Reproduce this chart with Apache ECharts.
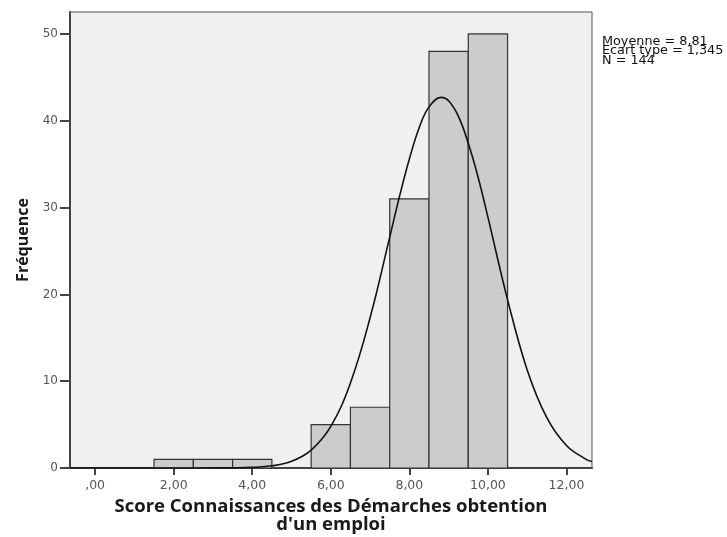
<!DOCTYPE html>
<html>
<head>
<meta charset="utf-8">
<script src="https://cdn.jsdelivr.net/npm/echarts@6/dist/echarts.min.js"></script>
<style>html,body{margin:0;padding:0;background:#fff}#c{width:727px;height:537px}</style>
</head>
<body>
<div id="c"></div>
<script>
// Histogram bins (lower edge, upper edge) and frequencies
var binLow  = [1.5, 2.5, 3.5, 5.5, 6.5, 7.5, 8.5, 9.5];
var binHigh = [2.5, 3.5, 4.5, 6.5, 7.5, 8.5, 9.5, 10.5];
var counts  = [1, 1, 1, 5, 7, 31, 48, 50];

// Fitted normal curve
var curveX = [-0.64, 1, 2, 3, 3.5, 4, 4.5, 5, 5.5, 6, 6.5, 7, 7.5, 7.75, 8, 8.25, 8.5, 8.81, 9, 9.25, 9.5, 9.75, 10, 10.5, 11, 11.5, 12, 12.5, 12.65];
var curveY = [0, 0, 0, 0.01, 0.02, 0.07, 0.25, 0.77, 2.07, 4.8, 9.8, 17.3, 26.6, 31.3, 35.6, 39.2, 41.6, 42.7, 42.3, 40.5, 37.4, 33.5, 28.9, 19.4, 11.3, 5.8, 2.6, 1.0, 0.75];

// Axis tick labels
var xTicks = [0, 2, 4, 6, 8, 10, 12];
var xTickLabels = [',00', '2,00', '4,00', '6,00', '8,00', '10,00', '12,00'];
var yTicks = [0, 10, 20, 30, 40, 50];

var statLines = ['Moyenne = 8,81', 'Ecart type = 1,345', 'N = 144'];
var xTitle = 'Score Connaissances des Démarches obtention\nd\'un emploi';
var yTitle = 'Fréquence';

var bars = binLow.map(function (lo, i) { return [lo, binHigh[i], counts[i]]; });
var curve = curveX.map(function (x, i) { return [x, curveY[i]]; });

var chart = echarts.init(document.getElementById('c'), null, {renderer: 'canvas'});
var tickFont = 'DejaVu Sans';
var titleFont = 'Open Sans';
chart.setOption({
  animation: false,
  grid: {left: 70, right: 135, top: 12, bottom: 69, outerBoundsMode: 'none', containLabel: false, show: true, backgroundColor: '#f0f0f0', borderColor: '#555', borderWidth: 1},
  xAxis: {
    type: 'value', min: -0.64, max: 12.65,
    name: xTitle, nameLocation: 'middle', nameGap: 26,
    nameTextStyle: {fontFamily: titleFont, fontWeight: 'bold', fontSize: 18.5, color: '#1a1a1a', lineHeight: 18, verticalAlign: 'top'},
    axisLine: {show: true, onZero: false, lineStyle: {color: '#444', width: 2}},
    axisTick: {show: true, customValues: xTicks, length: 7, lineStyle: {color: '#444', width: 2}},
    axisLabel: {customValues: xTicks, formatter: function (v) { return xTickLabels[xTicks.indexOf(v)]; }, fontFamily: tickFont, fontSize: 12.5, color: '#555', margin: 11},
    splitLine: {show: false}
  },
  yAxis: {
    type: 'value', min: 0, max: 52.53,
    name: yTitle, nameLocation: 'middle', nameGap: 38, nameRotate: 90,
    nameTextStyle: {fontFamily: titleFont, fontWeight: 'bold', fontSize: 16, color: '#1a1a1a'},
    axisLine: {show: true, onZero: false, lineStyle: {color: '#444', width: 2}},
    axisTick: {show: true, customValues: yTicks, length: 10, lineStyle: {color: '#444', width: 2}},
    axisLabel: {customValues: yTicks, fontFamily: tickFont, fontSize: 12, color: '#555', margin: 12},
    splitLine: {show: false}
  },
  series: [
    {
      type: 'custom',
      data: bars,
      renderItem: function (params, api) {
        var p0 = api.coord([api.value(0), 0]);
        var p1 = api.coord([api.value(1), api.value(2)]);
        return {
          type: 'rect',
          shape: {x: p0[0], y: p1[1], width: p1[0] - p0[0], height: p0[1] - p1[1]},
          style: {fill: '#cccccc', stroke: '#333', lineWidth: 1.2}
        };
      },
      encode: {x: [0, 1], y: 2},
      z: 2
    },
    {
      type: 'line', data: curve, smooth: 0.4, symbol: 'none',
      lineStyle: {color: '#111', width: 1.6}, z: 3
    }
  ],
  graphic: [{
    type: 'text', left: 602, top: 35,
    style: {text: statLines.join('\n'), font: '12.8px "DejaVu Sans"', lineHeight: 9.6, fill: '#111'}
  }]
});
</script>
</body>
</html>
